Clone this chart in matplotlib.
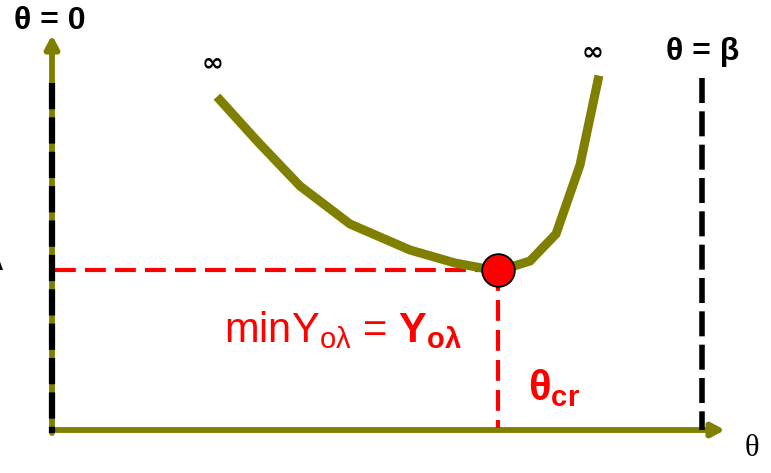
import matplotlib
matplotlib.use("Agg")
import matplotlib.pyplot as plt

plt.rcParams['font.family'] = ['Liberation Sans', 'DejaVu Sans']
plt.rcParams['mathtext.fontset'] = 'custom'
plt.rcParams['mathtext.rm'] = 'Liberation Sans'
plt.rcParams['mathtext.bf'] = 'Liberation Sans:bold'
plt.rcParams['mathtext.it'] = 'Liberation Sans:italic'

OLIVE = '#808000'
RED = '#ff0000'

# Кривая Y(θ) в координатах рисунка (x вправо, y вниз)
curve_x = [220, 258, 300, 350, 410, 455, 498, 530, 556, 580, 598]
curve_y = [100, 142, 186, 224, 250, 263, 271, 261, 234, 165, 80]

# Минимум кривой
theta_cr = 498
y_min = 270

# Оси
origin = (52, 430)
x_axis_end = 725
y_axis_end = 35
theta_beta = 702

fig = plt.figure(figsize=(7.71, 4.73), dpi=100)
ax = fig.add_axes([0, 0, 1, 1])
ax.set_xlim(0, 771)
ax.set_ylim(473, 0)
ax.axis('off')

arrow = dict(arrowstyle='-|>,head_length=0.75,head_width=0.4',
             color=OLIVE, lw=4.2, shrinkA=0, shrinkB=0)
# Ось θ
ax.annotate('', xy=(x_axis_end, origin[1]), xytext=(origin[0] + 4, origin[1]),
            arrowprops=arrow, zorder=2)
# Ось Y
ax.annotate('', xy=(origin[0], y_axis_end), xytext=(origin[0], origin[1] + 3),
            arrowprops=arrow, zorder=2)
# θ = 0 и θ = β пунктиром
ax.plot([origin[0], origin[0]], [83, origin[1] + 3], color='black', lw=4.5,
        dashes=(4.2, 1.3), dash_capstyle='butt', zorder=5)
ax.plot([theta_beta, theta_beta], [78, origin[1]], color='black', lw=4,
        dashes=(4.5, 1.5), dash_capstyle='butt', zorder=5)

# Кривая
ax.plot(curve_x, curve_y, color=OLIVE, lw=6.5, solid_joinstyle='miter', zorder=3)

# Проекции минимума
ax.plot([origin[0] + 3, theta_cr], [y_min, y_min], color=RED, lw=3,
        dashes=(5, 2.2), dash_capstyle='butt', zorder=2)
ax.plot([theta_cr, theta_cr], [y_min, origin[1] - 2], color=RED, lw=3,
        dashes=(5, 2.2), dash_capstyle='butt', zorder=2)
ax.plot(theta_cr, y_min, 'o', ms=23.5, mfc=RED, mec='black', mew=1.3, zorder=4)

# Подписи
ax.text(50, 21, 'θ = 0', fontsize=23, fontweight='bold', ha='center', va='center')
ax.text(703, 52, 'θ = β', fontsize=23, fontweight='bold', ha='center', va='center')
ax.text(213, 63, '∞', fontsize=19, fontweight='bold', ha='center', va='center',
        family='DejaVu Sans')
ax.text(593, 52, '∞', fontsize=19, fontweight='bold', ha='center', va='center',
        family='DejaVu Sans')
ax.text(3, 262, 'λ', fontsize=22, ha='right', va='center')
ax.text(224, 342, r'$\mathrm{minY_{oλ}}$ = $\mathbf{Y_{oλ}}$', fontsize=30,
        color=RED, ha='left', va='baseline')
ax.text(528, 400, r'$\mathbf{θ_{cr}}$', fontsize=30, color=RED,
        ha='left', va='baseline')
ax.text(752, 448, 'θ', fontsize=22, ha='center', va='center',
        family='Liberation Serif')

fig.savefig('out.png', dpi=100)
